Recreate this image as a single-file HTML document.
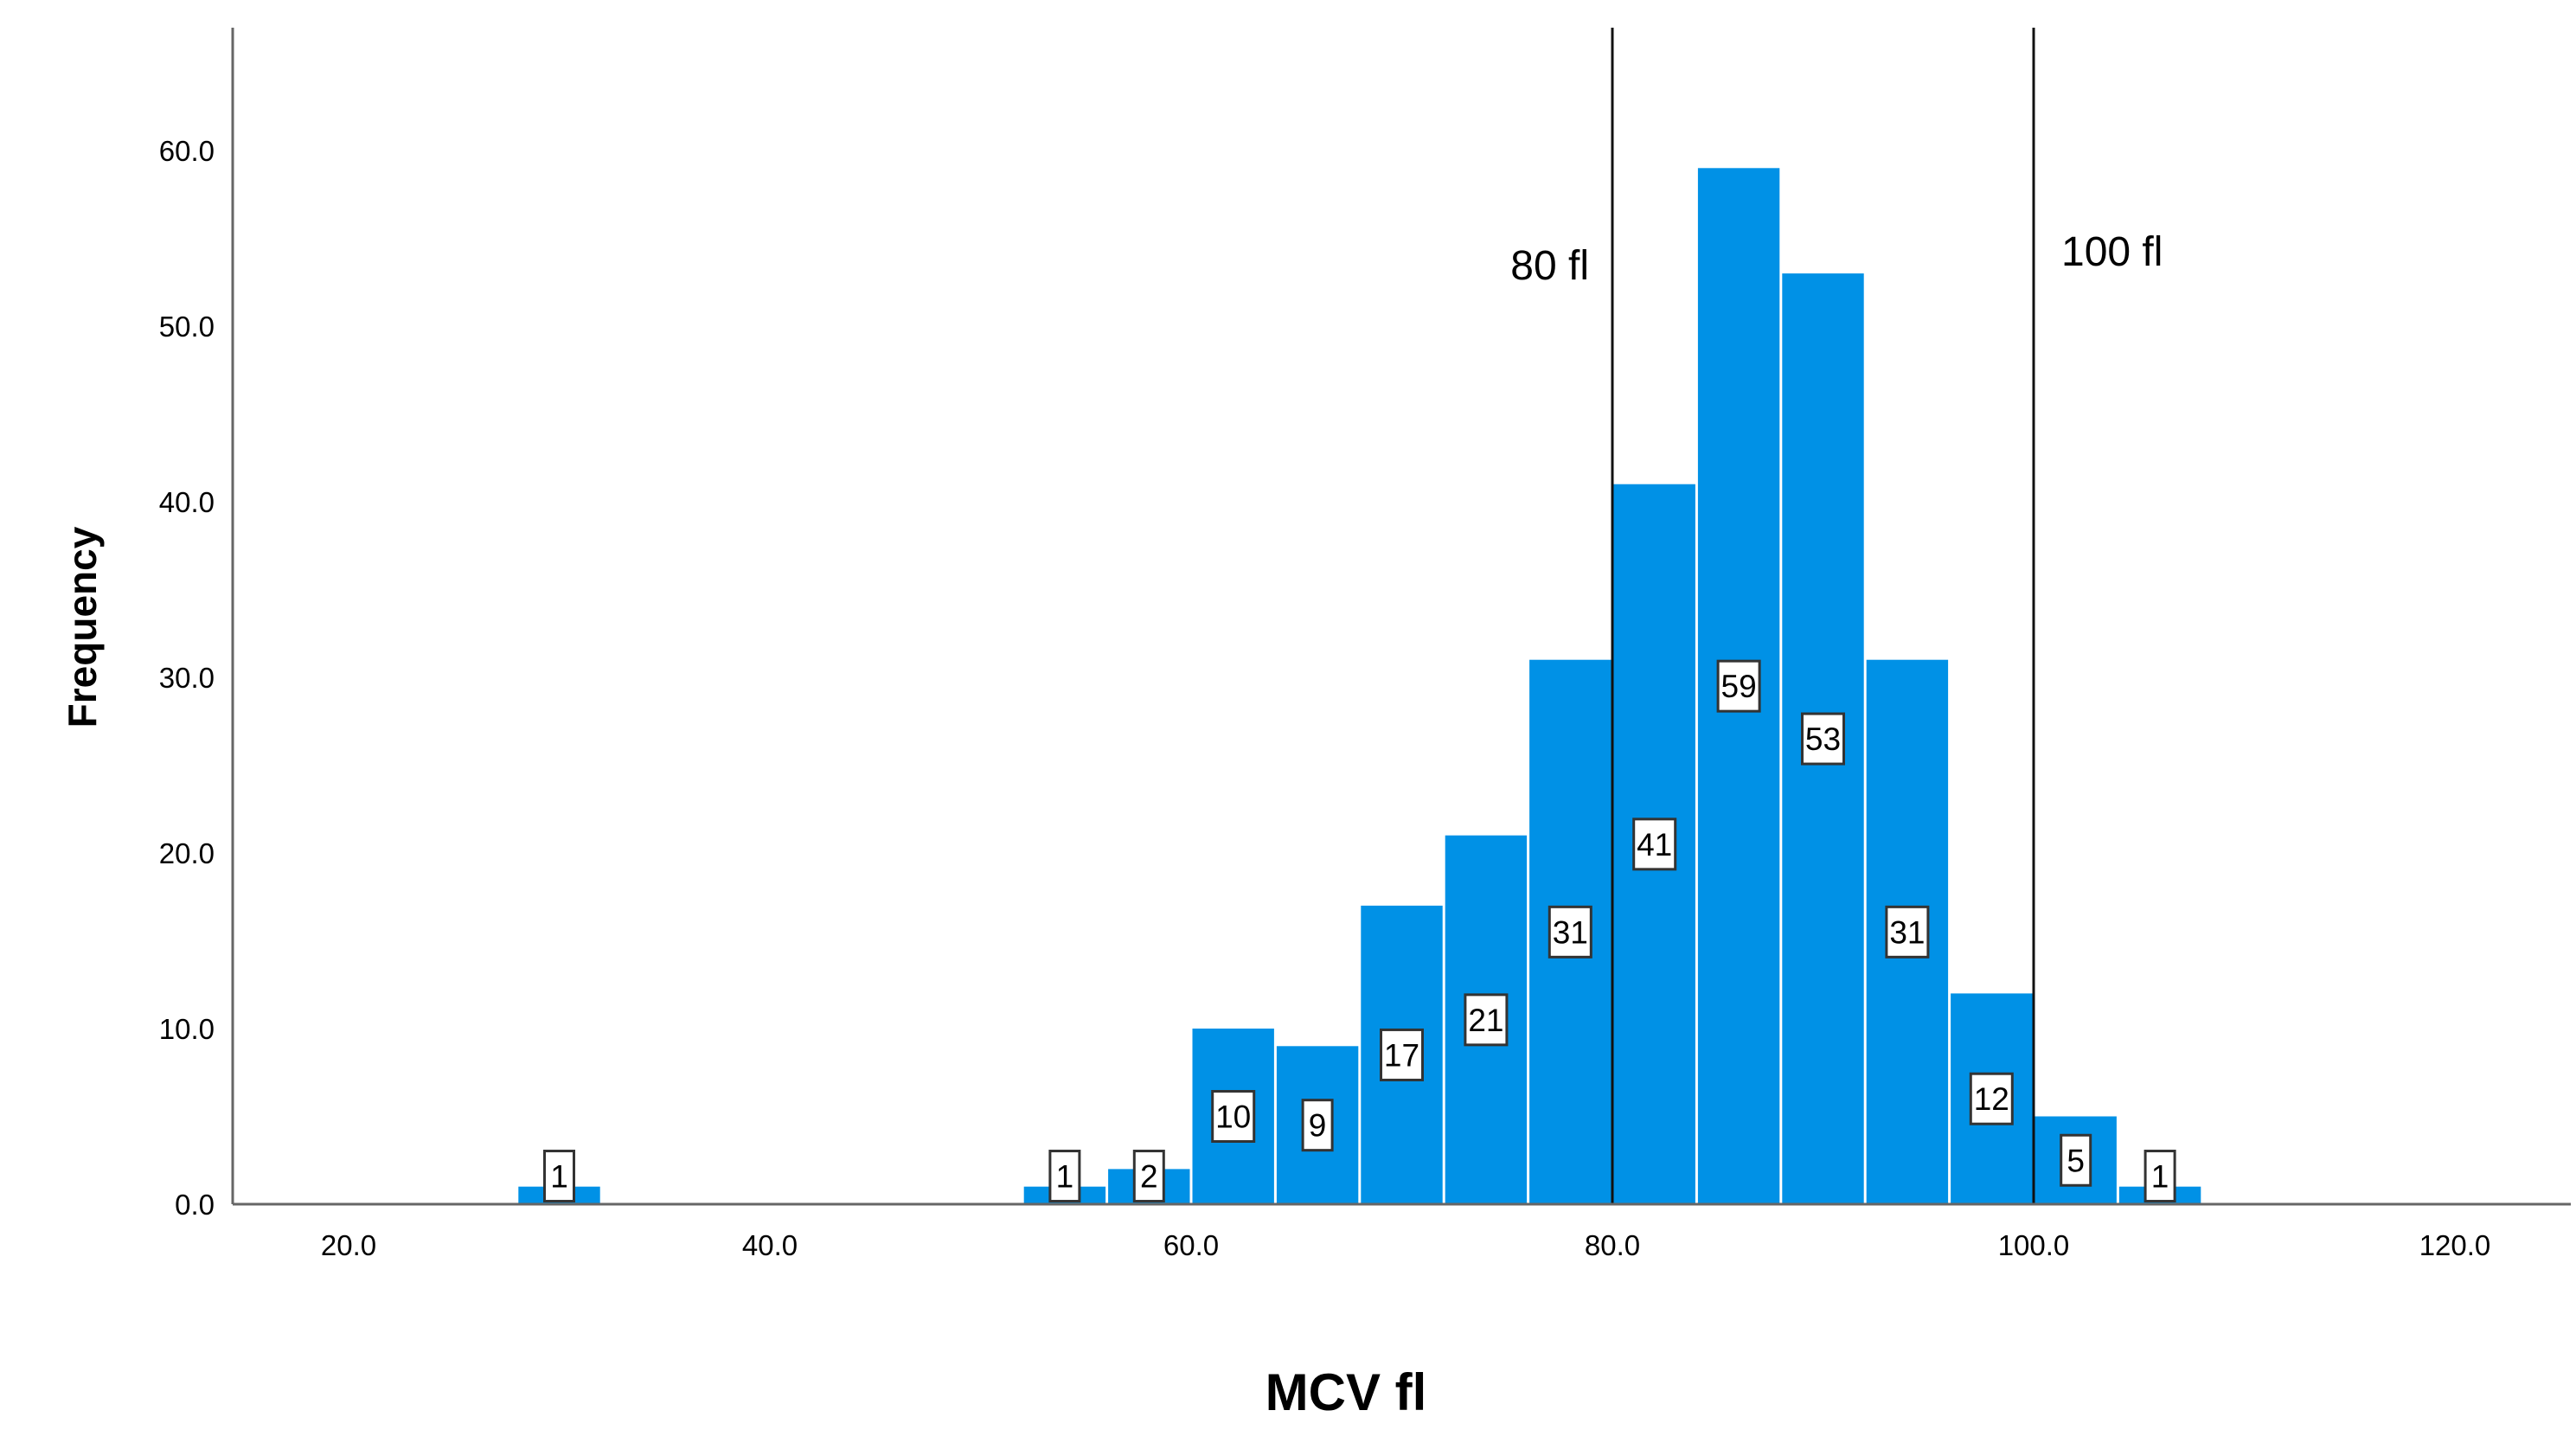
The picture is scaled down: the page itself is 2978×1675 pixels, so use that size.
<!DOCTYPE html>
<html><head><meta charset="utf-8"><style>
body{margin:0;background:#fff;}
svg{display:block;font-family:"Liberation Sans",Arial,sans-serif;}
</style></head><body>
<svg id="chart" width="2978" height="1675" viewBox="0 0 2978 1675" xmlns="http://www.w3.org/2000/svg">
<rect width="2978" height="1675" fill="#fff"/>
<g id="bars"></g>
<g id="labels"></g>
<g id="axes"></g>
</svg>
<script>
const binStarts=[28,52,56,60,64,68,72,76,80,84,88,92,96,100,104];
const counts=[1,1,2,10,9,17,21,31,41,59,53,31,12,5,1];
const binWidth=4;
const xTicks=[20,40,60,80,100,120];
const yTicks=[0,10,20,30,40,50,60];
const refLines=[80,100];
const refLabels=["80 fl","100 fl"];

const NS="http://www.w3.org/2000/svg";
const X0=403, XPER=24.35, Y0=1392, YPER=20.3;
function x(v){return X0+(v-20)*XPER;}
function y(v){return Y0-v*YPER;}
function mk(tag,attrs,parent,text){const e=document.createElementNS(NS,tag);for(const k in attrs)e.setAttribute(k,attrs[k]);if(text!==undefined)e.textContent=text;parent.appendChild(e);return e;}
const bars=document.getElementById('bars'),labels=document.getElementById('labels'),axes=document.getElementById('axes');

binStarts.forEach((s,i)=>{
  const r=mk('rect',{x:x(s)+1.5,y:y(counts[i]),width:binWidth*XPER-3,height:Y0-y(counts[i]),fill:'#0091E6'},bars);
  
  
  const cx=x(s+binWidth/2);
  const cy=y(Math.max(counts[i]/2,1.6));
  const t=String(counts[i]);
  const w=t.length>1?48:34;
  const g=mk('g',{},labels);
  
  
  mk('rect',{x:cx-w/2,y:cy-29,width:w,height:58,fill:'#fff',stroke:'#333','stroke-width':3},g);
  mk('text',{x:cx,y:cy+13,'text-anchor':'middle','font-size':37,fill:'#000'},g,t);
});

refLines.forEach((v,i)=>{
  const l=mk('line',{x1:x(v),x2:x(v),y1:32,y2:Y0,stroke:'#111','stroke-width':3},axes);
  
  
  const t=mk('text',{x:i===0?x(v)-27:x(v)+32,y:i===0?323:307,'text-anchor':i===0?'end':'start','font-size':48,fill:'#000'},axes,refLabels[i]);
  
  
});

mk('line',{x1:269,x2:269,y1:32,y2:Y0,stroke:'#666','stroke-width':3},axes);
mk('line',{x1:269,x2:2972,y1:Y0,y2:Y0,stroke:'#666','stroke-width':3},axes);

yTicks.forEach(v=>{
  const t=mk('text',{x:248,y:y(v)+12,'text-anchor':'end','font-size':33,fill:'#000'},axes,v.toFixed(1));
  
  
});
xTicks.forEach(v=>{
  const t=mk('text',{x:x(v),y:1451,'text-anchor':'middle','font-size':33,fill:'#000'},axes,v.toFixed(1));
  
  
});

const yt=mk('text',{x:0,y:0,transform:'translate(111,725) rotate(-90)','text-anchor':'middle','font-size':46,'font-weight':'bold',fill:'#000'},axes,'Frequency');


const xt=mk('text',{x:1556,y:1630,'text-anchor':'middle','font-size':60,'font-weight':'bold',fill:'#000'},axes,'MCV fl');


</script>
</body></html>
